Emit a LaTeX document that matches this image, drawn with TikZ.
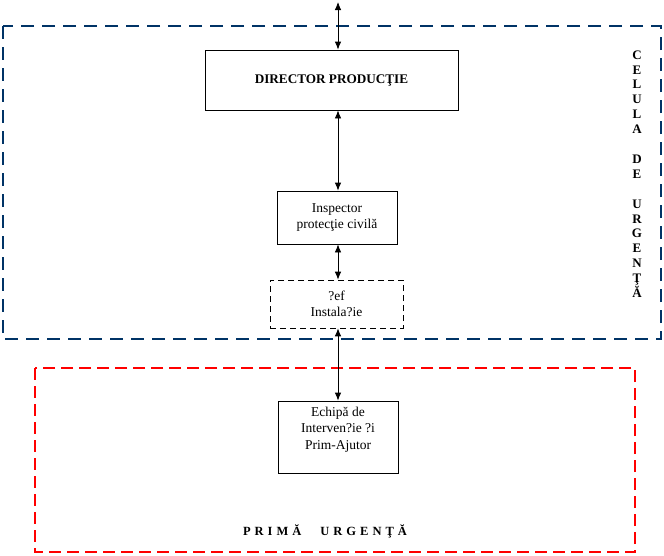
\documentclass[tikz,border=0pt]{standalone}
\usepackage{fontspec}
\setmainfont{Liberation Serif}
\usepackage{xcolor}
\usetikzlibrary{arrows.meta,calc,positioning}
\definecolor{celula}{HTML}{003366}
\definecolor{prima}{HTML}{FF0000}

\begin{document}
\begin{tikzpicture}[x=1pt,y=-1pt,>={Latex[length=8pt,width=6.5pt]},font=\fontsize{13.5}{16.5}\selectfont,
  box/.style={draw=black,line width=0.8pt,fill=white,align=center,inner sep=0pt}]
\useasboundingbox (0,0) rectangle (664,555);
% zonele
\draw[celula,line width=2.8pt,dash pattern=on 13pt off 8pt] (3,26) rectangle (661,339);
\draw[prima,line width=2.6pt,dash pattern=on 12pt off 6pt] (35,368) rectangle (635,552);
% casete
\node[box,minimum width=253pt,minimum height=60pt,font=\fontsize{13.2}{15}\selectfont\bfseries] (director) at (331.5,80) {DIRECTOR PRODUC\c{T}IE};
\node[box,minimum width=120pt,minimum height=53pt] (inspector) at (337,217.5) {Inspector\\protec\c{t}ie civil\u{a}};
\node[box,dashed,line width=0.6pt,dash pattern=on 6pt off 4pt,minimum width=133pt,minimum height=48pt] (sef) at (336.5,304) {?ef\\Instala?ie};
\node[box,minimum width=120pt,minimum height=72pt] (echipa) at (338,437) {};
\node[align=center,anchor=north,inner sep=0pt] (echipatext) at ($(echipa.north)+(0,6)$) {Echip\u{a} de\\Interven?ie ?i\\Prim-Ajutor};
% legaturi
\coordinate (sus) at (338,2);
\draw[<->,line width=0.8pt] (sus) -- (sus |- director.north);
\draw[<->,line width=0.8pt] (sus |- director.south) -- (sus |- inspector.north);
\draw[<->,line width=0.8pt] (sus |- inspector.south) -- (sus |- sef.north);
\draw[<->,line width=0.8pt] (sus |- sef.south) -- (sus |- echipa.north);
% etichete
\node[align=center,inner sep=0pt,font=\fontsize{13}{14.9}\selectfont\bfseries] (celulatext) at (637,174) {C\\E\\L\\U\\L\\A\\[14.9pt]D\\E\\[14.9pt]U\\R\\G\\E\\N\\\c{T}\\\u{A}};
\node[inner sep=0pt,font=\fontsize{12.5}{14}\selectfont\bfseries] (primatext) at (325,531) {P\hspace{4pt}R\hspace{4pt}I\hspace{4pt}M\hspace{4pt}\u{A}\hspace{19pt}U\hspace{4pt}R\hspace{4pt}G\hspace{4pt}E\hspace{4pt}N\hspace{4pt}\c{T}\hspace{4pt}\u{A}};
\end{tikzpicture}
\end{document}
